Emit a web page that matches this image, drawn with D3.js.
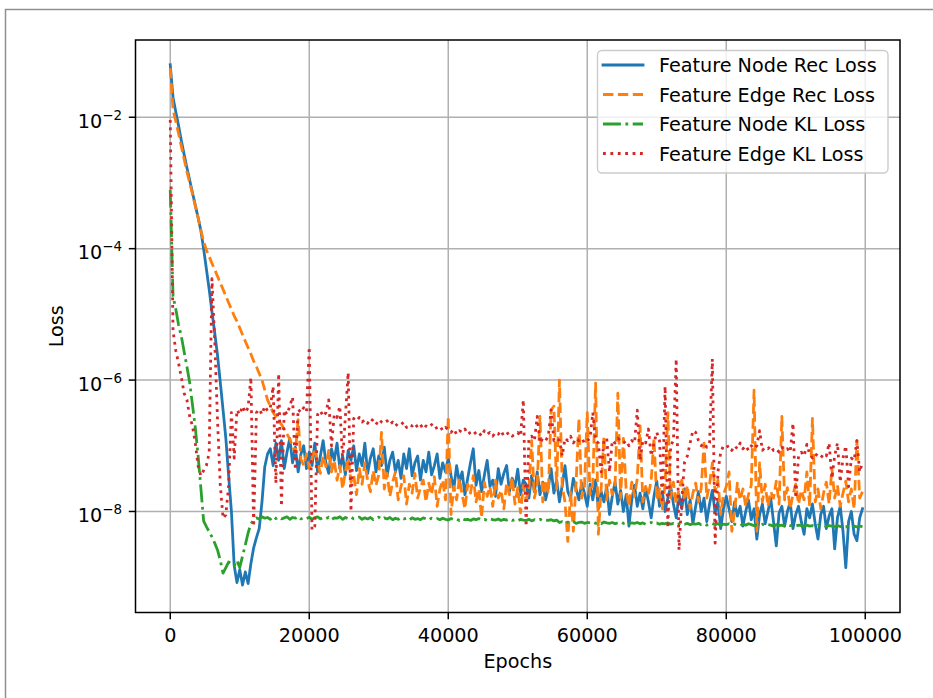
<!DOCTYPE html>
<html>
<head>
<meta charset="utf-8">
<script src="https://cdn.jsdelivr.net/npm/d3@7"></script>
<style>
  body { margin: 0; background: #fff; }
  svg { display: block; }
  text { font-family: "DejaVu Sans", sans-serif; fill: #000; }
</style>
</head>
<body>
<svg id="chart" width="933" height="698"></svg>
<script>
// Losses are logged every LOG_INTERVAL epochs, starting at epoch 0.
const LOG_INTERVAL = 400;

const nodeRecLoss = [
  6.3e-2, 2.0e-2, 1.2e-2, 7.4e-3, 4.4e-3, 2.7e-3, 1.7e-3, 1.1e-3, 7.1e-4, 4.6e-4,
  3.0e-4, 1.9e-4, 1.0e-4, 4.9e-5, 2.4e-5, 1.1e-5, 5.2e-6, 2.4e-6, 9.3e-7, 3.5e-7,
  1.3e-7, 3.5e-8, 1.0e-8, 1.5e-9, 8.3e-10, 1.3e-9, 7.6e-10, 1.2e-9, 8.0e-10, 1.6e-9,
  2.8e-9, 4.0e-9, 5.5e-9, 1.4e-8, 4.8e-8, 7.5e-8, 9.0e-8, 5.0e-8, 1.1e-7, 6.0e-8,
  1.2e-7, 4.5e-8, 8.0e-8, 1.3e-7, 5.5e-8, 9.5e-8, 4.0e-8, 7.5e-8, 1.0e-7, 4.5e-8,
  8.0e-8, 5.0e-8, 1.1e-7, 4.0e-8, 7.0e-8, 1.2e-7, 5.5e-8, 3.8e-8, 9.0e-8, 6.0e-8,
  1.1e-7, 4.5e-8, 7.0e-8, 3.6e-8, 8.5e-8, 6.0e-8, 1.0e-7, 4.2e-8, 7.5e-8, 5.0e-8,
  1.1e-7, 3.8e-8, 6.5e-8, 9.0e-8, 4.0e-8, 7.0e-8, 5.0e-8, 9.5e-8, 3.5e-8, 6.0e-8,
  8.0e-8, 4.0e-8, 6.0e-8, 3.2e-8, 7.5e-8, 4.5e-8, 9.0e-8, 3.5e-8, 5.5e-8, 7.0e-8,
  3.0e-8, 6.0e-8, 4.0e-8, 8.0e-8, 3.6e-8, 5.0e-8, 7.5e-8, 3.2e-8, 5.5e-8, 4.0e-8,
  6.5e-8, 3.5e-8, 2.2e-8, 5.0e-8, 2.8e-8, 4.0e-8, 1.8e-8, 3.2e-8, 5.5e-8, 9.0e-8,
  2.5e-8, 4.2e-8, 2.0e-8, 3.6e-8, 6.0e-8, 2.4e-8, 3.0e-8, 1.7e-8, 4.5e-8, 2.6e-8,
  3.8e-8, 5.0e-8, 2.0e-8, 3.2e-8, 2.4e-8, 4.4e-8, 1.8e-8, 3.0e-8, 2.6e-8, 1.6e-8,
  3.5e-8, 2.0e-8, 4.0e-8, 1.8e-8, 2.8e-8, 1.5e-8, 2.3e-8, 4.5e-8, 1.9e-8, 3.0e-8,
  1.4e-8, 2.5e-8, 5.0e-8, 2.0e-8, 1.6e-8, 3.2e-8, 2.2e-8, 1.5e-8, 2.7e-8, 1.9e-8,
  1.2e-8, 2.6e-8, 1.5e-8, 3.0e-8, 1.1e-8, 2.0e-8, 1.4e-8, 2.4e-8, 9.0e-9, 1.7e-8,
  2.8e-8, 1.3e-8, 2.1e-8, 1.0e-8, 1.8e-8, 6.0e-9, 1.5e-8, 2.5e-8, 1.2e-8, 1.9e-8,
  1.1e-8, 2.3e-8, 1.4e-8, 8.0e-9, 1.7e-8, 2.9e-8, 1.2e-8, 2.0e-8, 1.0e-8, 1.6e-8,
  2.4e-8, 1.3e-8, 8.0e-9, 1.8e-8, 1.1e-8, 2.2e-8, 9.0e-9, 1.5e-8, 6.5e-9, 1.2e-8,
  2.0e-8, 1.0e-8, 1.6e-8, 7.0e-9, 1.3e-8, 2.1e-8, 9.5e-9, 1.4e-8, 5.5e-9, 1.1e-8,
  1.7e-8, 1.1e-8, 7.0e-9, 1.4e-8, 8.5e-9, 1.2e-8, 6.0e-9, 1.0e-8, 1.5e-8, 7.5e-9,
  1.1e-8, 3.8e-9, 9.0e-9, 1.3e-8, 6.5e-9, 1.0e-8, 1.6e-8, 7.0e-9, 3.0e-9, 9.5e-9,
  1.2e-8, 6.0e-9, 1.0e-8, 1.4e-8, 5.5e-9, 9.0e-9, 1.2e-8, 7.0e-9, 4.5e-9, 1.1e-8,
  8.0e-9, 1.3e-8, 6.5e-9, 3.8e-9, 9.0e-9, 1.2e-8, 5.5e-9, 8.5e-9, 1.1e-8, 2.7e-9,
  8.0e-9, 1.2e-8, 5.0e-9, 1.4e-9, 7.0e-9, 1.0e-8, 4.5e-9, 3.6e-9, 8.0e-9, 1.1e-8
];

const edgeRecLoss = [
  5.6e-2, 1.3e-2, 8.7e-3, 5.6e-3, 3.6e-3, 2.3e-3, 1.5e-3, 1.0e-3, 6.8e-4, 4.5e-4,
  3.0e-4, 1.9e-4, 1.3e-4, 9.5e-5, 7.6e-5, 6.0e-5, 4.8e-5, 3.8e-5, 3.0e-5, 2.4e-5,
  1.9e-5, 1.5e-5, 1.2e-5, 9.5e-6, 7.8e-6, 6.2e-6, 4.9e-6, 3.9e-6, 3.1e-6, 2.5e-6,
  1.95e-6, 1.6e-6, 1.26e-6, 1.0e-6, 7.1e-7, 5.0e-7, 4.0e-7, 3.2e-7, 2.8e-7, 2.4e-7,
  2.1e-7, 1.8e-7, 1.5e-7, 1.26e-7, 1.0e-7, 7.9e-8, 2.5e-7, 6.3e-8, 5.0e-8, 7.5e-8,
  4.5e-8, 6.5e-8, 9.0e-8, 5.5e-8, 3.8e-8, 7.0e-8, 4.8e-8, 8.5e-8, 4.0e-8, 6.0e-8,
  3.0e-8, 5.0e-8, 2.2e-8, 4.0e-8, 6.5e-8, 2.8e-8, 3.5e-8, 1.8e-8, 4.5e-8, 2.6e-8,
  5.5e-8, 3.0e-8, 2.0e-8, 4.2e-8, 2.5e-8, 3.6e-8, 1.6e-7, 2.2e-8, 3.8e-8, 1.7e-8,
  2.8e-8, 4.0e-8, 1.5e-8, 2.4e-8, 3.5e-8, 1.3e-8, 2.6e-8, 1.9e-8, 3.8e-8, 1.6e-8,
  2.3e-8, 3.0e-8, 1.4e-8, 2.7e-8, 1.8e-8, 3.4e-8, 1.2e-8, 2.2e-8, 3.0e-8, 1.5e-8,
  2.8e-7, 9.0e-9, 2.4e-8, 1.5e-8, 3.2e-8, 1.8e-8, 1.1e-8, 2.6e-8, 1.9e-8, 3.5e-8,
  1.4e-8, 2.2e-8, 8.0e-9, 2.8e-8, 1.7e-8, 2.4e-8, 1.2e-8, 3.0e-8, 1.6e-8, 2.1e-8,
  1.1e-8, 2.7e-8, 1.8e-8, 3.3e-8, 1.3e-8, 2.3e-8, 9.5e-9, 2.5e-8, 1.5e-8, 2.2e-8,
  1.2e-7, 1.6e-8, 2.6e-8, 2.8e-7, 1.4e-8, 3.0e-8, 1.9e-8, 3.5e-7, 4.0e-7, 2.2e-8,
  1.0e-6, 2.4e-8, 1.4e-8, 3.5e-9, 2.0e-8, 5.0e-9, 2.8e-8, 2.6e-7, 1.6e-8, 2.4e-8,
  3.2e-7, 1.8e-8, 2.7e-8, 9.0e-7, 4.5e-9, 2.2e-8, 1.4e-7, 1.5e-8, 3.0e-8, 1.8e-8,
  2.5e-8, 6.3e-7, 1.6e-8, 1.3e-7, 2.1e-8, 1.2e-8, 2.8e-8, 1.7e-8, 3.2e-8, 2.0e-7,
  1.4e-8, 2.4e-8, 1.8e-8, 3.0e-8, 1.3e-7, 1.5e-8, 2.2e-8, 1.1e-8, 2.6e-8, 3.2e-7,
  1.6e-8, 2.8e-8, 1.3e-8, 2.2e-8, 3.0e-8, 1.5e-8, 2.5e-8, 1.1e-8, 1.9e-8, 2.7e-8,
  1.4e-8, 2.3e-8, 1.1e-7, 1.6e-8, 2.6e-8, 5.5e-8, 2.0e-8, 3.0e-8, 9.0e-9, 1.8e-8,
  2.4e-8, 4.0e-8, 5.0e-9, 1.0e-8, 2.7e-8, 1.5e-8, 2.2e-8, 1.2e-8, 1.8e-8, 2.5e-8,
  7.0e-7, 5.0e-9, 5.5e-8, 1.4e-8, 2.6e-8, 1.2e-8, 2.0e-8, 1.6e-8, 2.9e-8, 1.3e-8,
  2.8e-7, 1.5e-8, 2.3e-8, 1.1e-8, 1.8e-8, 2.6e-8, 1.3e-8, 2.1e-8, 1.5e-8, 4.0e-8,
  1.2e-8, 2.6e-7, 1.4e-8, 2.2e-8, 1.1e-8, 1.9e-8, 2.8e-8, 1.3e-8, 4.5e-8, 1.6e-8,
  2.5e-8, 1.2e-8, 1.9e-8, 2.9e-8, 1.4e-8, 2.2e-8, 1.1e-8, 1.2e-7, 1.6e-8, 2.0e-8
];

const nodeKlLoss = [
  7.9e-4, 1.9e-5, 1.2e-5, 6.9e-6, 4.6e-6, 2.7e-6, 1.6e-6, 9.1e-7, 4.2e-7, 1.9e-7,
  7.2e-8, 2.3e-8, 7.2e-9, 5.9e-9, 4.9e-9, 4.1e-9, 3.3e-9, 2.6e-9, 1.8e-9, 1.15e-9,
  1.4e-9, 1.7e-9, 1.6e-9, 1.5e-9, 1.8e-9, 1.4e-9, 2.1e-9, 3.1e-9, 4.7e-9, 6.5e-9,
  7.4e-9, 8.0e-9, 7.7e-9, 8.3e-9, 7.9e-9, 8.1e-9, 7.6e-9, 8.4e-9, 7.8e-9, 8.2e-9,
  7.7e-9, 8.0e-9, 8.3e-9, 7.6e-9, 8.1e-9, 7.9e-9, 8.4e-9, 7.7e-9, 8.0e-9, 7.8e-9,
  8.2e-9, 7.6e-9, 8.0e-9, 8.3e-9, 7.7e-9, 8.1e-9, 7.8e-9, 8.2e-9, 7.5e-9, 8.0e-9,
  7.9e-9, 8.3e-9, 7.6e-9, 8.1e-9, 7.8e-9, 8.2e-9, 7.7e-9, 7.9e-9, 8.2e-9, 7.6e-9,
  8.0e-9, 7.7e-9, 8.1e-9, 7.5e-9, 7.9e-9, 8.2e-9, 7.6e-9, 8.0e-9, 7.7e-9, 8.1e-9,
  7.5e-9, 7.9e-9, 7.6e-9, 8.1e-9, 7.7e-9, 7.9e-9, 7.4e-9, 8.0e-9, 7.6e-9, 7.8e-9,
  7.5e-9, 8.0e-9, 7.7e-9, 7.4e-9, 7.9e-9, 7.6e-9, 7.8e-9, 7.5e-9, 7.9e-9, 7.6e-9,
  7.4e-9, 7.8e-9, 7.5e-9, 7.7e-9, 7.3e-9, 7.8e-9, 7.5e-9, 7.6e-9, 7.3e-9, 7.7e-9,
  7.5e-9, 7.8e-9, 7.4e-9, 7.6e-9, 7.3e-9, 7.7e-9, 7.5e-9, 7.4e-9, 7.7e-9, 7.3e-9,
  7.6e-9, 7.4e-9, 7.7e-9, 7.3e-9, 7.5e-9, 7.2e-9, 7.6e-9, 7.4e-9, 7.3e-9, 7.6e-9,
  7.2e-9, 7.5e-9, 7.3e-9, 7.6e-9, 7.2e-9, 7.4e-9, 7.3e-9, 7.5e-9, 7.2e-9, 7.4e-9,
  6.8e-9, 7.0e-9, 6.6e-9, 6.9e-9, 6.7e-9, 7.0e-9, 6.6e-9, 6.8e-9, 6.9e-9, 6.6e-9,
  6.8e-9, 6.7e-9, 6.9e-9, 6.6e-9, 6.8e-9, 6.5e-9, 6.9e-9, 6.7e-9, 6.6e-9, 6.8e-9,
  6.5e-9, 6.7e-9, 6.9e-9, 6.6e-9, 6.8e-9, 6.5e-9, 6.7e-9, 6.6e-9, 6.8e-9, 6.5e-9,
  6.7e-9, 6.4e-9, 6.6e-9, 6.8e-9, 6.5e-9, 6.7e-9, 6.4e-9, 6.6e-9, 6.5e-9, 6.7e-9,
  6.4e-9, 6.6e-9, 6.3e-9, 6.5e-9, 6.7e-9, 6.4e-9, 6.6e-9, 6.3e-9, 6.5e-9, 6.4e-9,
  6.6e-9, 6.3e-9, 6.5e-9, 6.2e-9, 6.4e-9, 6.6e-9, 6.3e-9, 6.5e-9, 6.2e-9, 6.4e-9,
  6.3e-9, 6.5e-9, 6.2e-9, 6.4e-9, 6.3e-9, 6.1e-9, 6.4e-9, 6.2e-9, 6.5e-9, 6.3e-9,
  6.1e-9, 6.3e-9, 6.2e-9, 6.4e-9, 6.1e-9, 6.3e-9, 6.2e-9, 6.0e-9, 6.3e-9, 6.1e-9,
  6.2e-9, 6.0e-9, 6.3e-9, 6.1e-9, 6.2e-9, 6.0e-9, 6.2e-9, 6.1e-9, 5.9e-9, 6.2e-9,
  6.0e-9, 6.1e-9, 5.9e-9, 6.2e-9, 6.0e-9, 6.1e-9, 5.9e-9, 6.1e-9, 6.0e-9, 5.8e-9,
  6.1e-9, 5.9e-9, 6.0e-9, 5.8e-9, 6.1e-9, 5.9e-9, 6.0e-9, 5.8e-9, 6.0e-9, 5.9e-9
];

const edgeKlLoss = [
  9.1e-3, 5.6e-6, 2.8e-6, 1.8e-6, 1.1e-6, 6.3e-7, 5.0e-7, 2.8e-7, 2.0e-7, 1.1e-7,
  5.0e-8, 3.5e-8, 4.2e-8, 5.0e-8, 7.9e-8, 3.5e-5, 4.0e-6, 2.5e-7, 2.5e-8, 7.9e-9,
  8.9e-9, 2.5e-8, 3.2e-7, 6.5e-8, 3.5e-7, 3.0e-7, 4.0e-7, 3.2e-7, 3.8e-7, 1.1e-6,
  5.9e-9, 3.2e-7, 3.6e-7, 3.0e-7, 4.0e-7, 3.4e-7, 3.8e-7, 8.0e-7, 2.7e-8, 1.26e-6,
  1.2e-8, 3.5e-7, 3.0e-7, 4.0e-7, 5.5e-7, 4.3e-8, 3.6e-7, 3.2e-7, 3.8e-7, 3.3e-7,
  3.2e-6, 5.2e-9, 6.0e-9, 3.0e-7, 3.4e-7, 2.8e-7, 3.2e-7, 5.0e-7, 1.0e-7, 3.0e-7,
  2.7e-7, 4.0e-7, 6.0e-8, 2.8e-7, 1.3e-6, 1.0e-8, 2.6e-7, 2.4e-7, 2.7e-7, 2.3e-7,
  2.5e-7, 2.2e-7, 2.6e-7, 2.4e-7, 2.1e-7, 2.5e-7, 2.3e-7, 2.2e-7, 2.4e-7, 2.1e-7,
  2.3e-7, 2.0e-7, 2.2e-7, 2.1e-7, 2.3e-7, 1.9e-7, 2.1e-7, 2.0e-7, 2.2e-7, 1.9e-7,
  2.1e-7, 1.8e-7, 2.0e-7, 1.9e-7, 2.1e-7, 1.8e-7, 1.9e-7, 2.0e-7, 1.7e-7, 1.9e-7,
  1.8e-7, 1.6e-7, 1.8e-7, 1.5e-7, 1.7e-7, 1.6e-7, 1.8e-7, 1.5e-7, 1.6e-7, 1.7e-7,
  1.5e-7, 1.6e-7, 1.4e-7, 1.7e-7, 1.5e-7, 1.6e-7, 1.4e-7, 1.6e-7, 1.5e-7, 1.7e-7,
  1.4e-7, 1.5e-7, 1.6e-7, 1.4e-7, 1.5e-7, 1.6e-7, 1.4e-7, 5.0e-7, 5.9e-9, 1.3e-7,
  1.4e-7, 1.2e-7, 2.8e-7, 1.1e-7, 1.3e-7, 1.2e-7, 1.4e-7, 3.5e-7, 1.2e-7, 1.3e-7,
  1.2e-7, 7.0e-8, 1.3e-7, 1.2e-7, 1.4e-7, 1.1e-7, 1.3e-7, 1.2e-7, 1.3e-7, 1.1e-7,
  1.2e-7, 1.3e-7, 3.2e-7, 1.2e-7, 1.1e-7, 4.0e-8, 1.2e-7, 1.3e-7, 4.0e-8, 1.2e-7,
  1.1e-7, 1.3e-7, 1.2e-7, 1.1e-7, 1.2e-7, 1.0e-7, 1.2e-7, 1.1e-7, 3.5e-7, 6.0e-8,
  1.2e-7, 1.1e-7, 1.8e-7, 7.0e-8, 1.1e-7, 1.6e-7, 1.2e-7, 1.5e-8, 8.0e-7, 5.6e-9,
  1.0e-7, 1.2e-7, 2.1e-6, 2.6e-9, 1.5e-8, 5.6e-8, 7.0e-8, 1.1e-7, 1.7e-7, 1.6e-7,
  1.2e-7, 1.0e-7, 1.1e-7, 9.5e-8, 1.1e-7, 2.1e-6, 3.3e-9, 4.0e-8, 7.9e-8, 1.0e-7,
  9.5e-8, 1.0e-7, 8.5e-8, 1.0e-7, 9.0e-8, 1.1e-7, 9.0e-8, 1.0e-7, 8.5e-8, 1.0e-7,
  9.0e-8, 1.0e-7, 1.7e-7, 8.5e-8, 9.5e-8, 9.0e-8, 1.0e-7, 8.5e-8, 9.0e-8, 8.0e-8,
  9.5e-8, 8.5e-8, 9.0e-8, 8.0e-8, 2.2e-7, 1.6e-8, 7.0e-8, 8.0e-8, 7.0e-8, 1.05e-7,
  7.5e-8, 6.5e-8, 7.5e-8, 7.0e-8, 6.5e-8, 7.5e-8, 7.0e-8, 1.1e-7, 3.2e-8, 7.0e-8,
  1.1e-7, 2.8e-8, 6.5e-8, 1.0e-7, 2.4e-8, 6.5e-8, 6.0e-8, 1.2e-7, 4.0e-8, 5.6e-8
];

const seriesNames = [
  "Feature Node Rec Loss",
  "Feature Edge Rec Loss",
  "Feature Node KL Loss",
  "Feature Edge KL Loss"
];
const seriesColors = ["#1f77b4", "#ff7f0e", "#2ca02c", "#d62728"];
const seriesDashes = [null, "10.4,4.5", "17.9,4.5,2.8,4.5", "2.8,4.6"];

const xTickValues = [0, 20000, 40000, 60000, 80000, 100000];
const yTickExponents = [-2, -4, -6, -8];

// ---- layout ----
const plotLeft = 135.5, plotRight = 900, plotTop = 40, plotBottom = 612.5;
const fontSize = 19.2;
const lineWidth = 2.8;

const svg = d3.select("#chart");

// figure frame
svg.append("path")
  .attr("d", "M5.5,698 V9.5 H933")
  .attr("fill", "none")
  .attr("stroke", "#8f8f8f")
  .attr("stroke-width", 1.5);

const x = d3.scaleLinear().domain([-5000, 105000]).range([plotLeft, plotRight]);
const y = d3.scaleLog().domain([2.9e-10, 0.15]).range([plotBottom, plotTop]);

// grid
const grid = svg.append("g").attr("stroke", "#b0b0b0").attr("stroke-width", 1.5);
xTickValues.forEach(t => {
  grid.append("line")
    .attr("x1", x(t)).attr("x2", x(t))
    .attr("y1", plotTop).attr("y2", plotBottom);
});
yTickExponents.forEach(e => {
  const v = Math.pow(10, e);
  grid.append("line")
    .attr("x1", plotLeft).attr("x2", plotRight)
    .attr("y1", y(v)).attr("y2", y(v));
});

// series
svg.append("clipPath").attr("id", "plot-clip")
  .append("rect")
  .attr("x", plotLeft).attr("y", plotTop)
  .attr("width", plotRight - plotLeft).attr("height", plotBottom - plotTop);

const allSeries = [nodeRecLoss, edgeRecLoss, nodeKlLoss, edgeKlLoss];
const line = d3.line()
  .x((d, i) => x(i * LOG_INTERVAL))
  .y(d => y(d));

const linesG = svg.append("g").attr("clip-path", "url(#plot-clip)");
allSeries.forEach((values, k) => {
  linesG.append("path")
    .datum(values)
    .attr("d", line)
    .attr("fill", "none")
    .attr("stroke", seriesColors[k])
    .attr("stroke-width", lineWidth)
    .attr("stroke-linejoin", "round")
    .attr("stroke-linecap", k === 0 ? "square" : "butt")
    .attr("stroke-dasharray", seriesDashes[k]);
});

// spines
svg.append("rect")
  .attr("x", plotLeft).attr("y", plotTop)
  .attr("width", plotRight - plotLeft).attr("height", plotBottom - plotTop)
  .attr("fill", "none").attr("stroke", "#000").attr("stroke-width", 1.5);

// x axis ticks and labels
const tickLen = 6.7;
xTickValues.forEach(t => {
  svg.append("line")
    .attr("x1", x(t)).attr("x2", x(t))
    .attr("y1", plotBottom).attr("y2", plotBottom + tickLen)
    .attr("stroke", "#000").attr("stroke-width", 1.5);
  svg.append("text")
    .attr("x", x(t)).attr("y", plotBottom + 29.3)
    .attr("text-anchor", "middle")
    .attr("font-size", fontSize)
    .text(d3.format("d")(t));
});

// y axis ticks and labels (powers of ten)
yTickExponents.forEach(e => {
  const yy = y(Math.pow(10, e));
  svg.append("line")
    .attr("x1", plotLeft - tickLen).attr("x2", plotLeft)
    .attr("y1", yy).attr("y2", yy)
    .attr("stroke", "#000").attr("stroke-width", 1.5);
  const label = svg.append("text")
    .attr("x", plotLeft - tickLen - 6.7)
    .attr("y", yy + 10.5)
    .attr("text-anchor", "end")
    .attr("font-size", fontSize);
  label.append("tspan").text("10");
  label.append("tspan")
    .attr("dy", -8)
    .attr("font-size", fontSize * 0.7)
    .text("\u2212" + Math.abs(e));
});

// axis titles
svg.append("text")
  .attr("x", (plotLeft + plotRight) / 2).attr("y", 668)
  .attr("text-anchor", "middle")
  .attr("font-size", fontSize)
  .text("Epochs");
svg.append("text")
  .attr("transform", `translate(63,${(plotTop + plotBottom) / 2}) rotate(-90)`)
  .attr("text-anchor", "middle")
  .attr("font-size", fontSize)
  .text("Loss");

// legend
const legend = svg.append("g");
legend.append("rect")
  .attr("x", 597.5).attr("y", 50.5)
  .attr("width", 290.5).attr("height", 122.5)
  .attr("rx", 4.5).attr("ry", 4.5)
  .attr("fill", "#fff").attr("fill-opacity", 0.8)
  .attr("stroke", "#cccccc").attr("stroke-width", 1.4);
seriesNames.forEach((name, k) => {
  const cy = 65 + k * 29.5;
  legend.append("line")
    .attr("x1", 603).attr("x2", 643)
    .attr("y1", cy).attr("y2", cy)
    .attr("stroke", seriesColors[k])
    .attr("stroke-width", lineWidth)
    .attr("stroke-linecap", k === 0 ? "square" : "butt")
    .attr("stroke-dasharray", seriesDashes[k]);
  legend.append("text")
    .attr("x", 659).attr("y", cy + 7.3)
    .attr("font-size", fontSize)
    .text(name);
});
</script>
</body>
</html>
